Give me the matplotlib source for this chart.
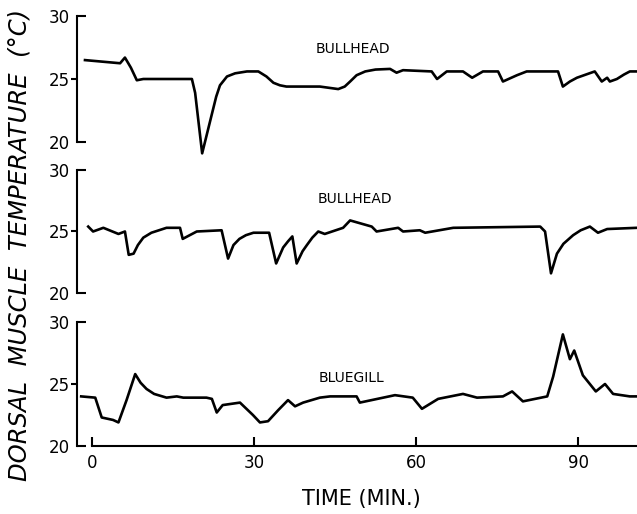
import matplotlib
matplotlib.use("Agg")
import matplotlib.pyplot as plt
from matplotlib.ticker import FixedLocator, FormatStrFormatter

# time in minutes, temperature in deg C
t_bh1 = [-1.3, 5.2, 6.1, 7.2, 8.3, 9.5, 18.5, 19.1, 20.4, 21.9, 23.0, 23.7, 25.0, 26.5,
         28.7, 30.8, 32.3, 33.6, 34.8, 36.0, 42.2, 45.6, 46.8, 47.8, 49.0, 50.6,
         52.5, 55.2, 56.4, 57.6, 62.9, 63.9, 65.7, 68.7, 70.4, 72.4, 75.2, 76.1,
         78.7, 80.5, 86.3, 87.2, 88.5, 89.8, 93.1, 94.4, 95.4, 95.9, 97.2, 98.5,
         99.6, 100.9]
T_bh1 = [26.5, 26.25, 26.7, 25.9, 24.9, 25.0, 25.0, 23.9, 19.1, 21.7, 23.6, 24.5, 25.2, 25.45,
         25.6, 25.6, 25.2, 24.7, 24.5, 24.4, 24.4, 24.2, 24.4, 24.8, 25.3, 25.6,
         25.75, 25.8, 25.5, 25.7, 25.6, 25.0, 25.6, 25.6, 25.1, 25.6, 25.6, 24.8,
         25.3, 25.6, 25.6, 24.4, 24.8, 25.1, 25.6, 24.8, 25.1, 24.8, 25.0, 25.35,
         25.6, 25.6]

t_bh2 = [-0.7, 0.2, 2.1, 4.9, 6.1, 6.8, 7.7, 8.5, 9.5, 11.0, 13.8, 16.3, 16.8, 19.4,
         24.0, 25.2, 26.2, 27.3, 28.5, 29.9, 32.8, 34.1, 35.4, 36.3, 37.1, 37.9,
         39.0, 39.8, 40.8, 41.9, 43.1, 46.5, 47.8, 51.8, 52.7, 56.7, 57.6, 60.7,
         61.7, 66.9, 83.0, 83.9, 85.0, 86.1, 87.3, 89.1, 90.5, 92.2, 93.7, 95.4,
         100.9]
T_bh2 = [25.4, 25.0, 25.3, 24.8, 25.0, 23.1, 23.2, 23.9, 24.5, 24.9, 25.3, 25.3, 24.4, 25.0,
         25.1, 22.8, 23.9, 24.4, 24.7, 24.9, 24.9, 22.4, 23.7, 24.2, 24.6, 22.4,
         23.4, 23.9, 24.5, 25.0, 24.8, 25.3, 25.9, 25.4, 25.0, 25.3, 25.0, 25.1,
         24.9, 25.3, 25.4, 25.0, 21.6, 23.2, 24.0, 24.7, 25.1, 25.4, 24.9, 25.2,
         25.3]

t_bg = [-2.0, 0.6, 1.8, 3.9, 4.9, 6.4, 8.0, 9.0, 10.1, 11.5, 13.8, 15.7, 16.9, 21.2,
        22.2, 23.1, 24.2, 27.4, 29.8, 31.1, 32.6, 34.5, 36.3, 37.6, 39.1, 42.2,
        44.1, 49.0, 49.6, 56.1, 59.4, 61.1, 64.1, 68.7, 71.3, 76.1, 77.8, 79.8,
        84.3, 85.4, 87.2, 88.5, 89.3, 90.9, 93.3, 95.0, 96.5, 99.6, 100.9]
T_bg = [24.0, 23.9, 22.3, 22.1, 21.9, 23.7, 25.8, 25.1, 24.6, 24.2, 23.9, 24.0, 23.9, 23.9,
        23.8, 22.7, 23.3, 23.5, 22.5, 21.9, 22.0, 22.9, 23.7, 23.2, 23.5, 23.9,
        24.0, 24.0, 23.5, 24.1, 23.9, 23.0, 23.8, 24.2, 23.9, 24.0, 24.4, 23.6,
        24.0, 25.6, 29.0, 27.0, 27.7, 25.7, 24.4, 25.0, 24.2, 24.0, 24.0]

names = ["BULLHEAD", "BULLHEAD", "BLUEGILL"]
series = [(t_bh1, T_bh1), (t_bh2, T_bh2), (t_bg, T_bg)]
time_ticks = [0, 30, 60, 90]

W, H = 637, 514
fig = plt.figure(figsize=(W / 100, H / 100), dpi=100)

# panel pixel extents (top of 30, bottom of 20)
panels = [(16, 142), (170, 293), (322, 446)]
label_pos = [(353, 49), (355, 199), (352, 378)]
x_left, x_right = 77, 636
x0_px, px_per_min = 92, 5.4
xlim = ((x_left - x0_px) / px_per_min, (x_right - x0_px) / px_per_min)

for i, ((top, bot), (t, T)) in enumerate(zip(panels, series)):
    ax = fig.add_axes([x_left / W, (H - bot) / H, (x_right - x_left) / W, (bot - top) / H])
    ax.plot(t, T, color="black", lw=1.9, solid_joinstyle="round", clip_on=False)
    ax.set_xlim(*xlim)
    ax.set_ylim(20, 30)
    ax.patch.set_alpha(0)
    for s in ["top", "right"]:
        ax.spines[s].set_visible(False)
    ax.spines["left"].set_linewidth(1.5)
    ax.spines["left"].set_bounds(20, 30)

    ax.yaxis.set_major_locator(FixedLocator([20, 30]))
    ax.yaxis.set_minor_locator(FixedLocator([25]))
    ax.yaxis.set_minor_formatter(FormatStrFormatter("%d"))
    ax.tick_params(axis="y", which="major", direction="in", length=6.5, width=1.5,
                   pad=5, labelsize=12)
    ax.tick_params(axis="y", which="minor", direction="out", length=4, width=1.5,
                   pad=1, labelsize=12)

    if i < 2:
        ax.spines["bottom"].set_visible(False)
        ax.set_xticks([])
    else:
        ax.spines["bottom"].set_linewidth(1.5)
        ax.spines["bottom"].set_bounds(0, xlim[1])
        ax.set_xticks(time_ticks)
        ax.tick_params(axis="x", direction="in", length=6.5, width=1.5, pad=6,
                       labelsize=12)

    lx, ly = label_pos[i]
    fig.text(lx / W, 1 - ly / H, names[i], ha="center", va="center", fontsize=10)

fig.text(20 / W, 1 - 245 / H, "DORSAL  MUSCLE  TEMPERATURE  (°C)", rotation=90,
         ha="center", va="center", fontsize=17.5, style="italic")
fig.text(361 / W, 1 - 499 / H, "TIME (MIN.)", ha="center", va="center", fontsize=15)

fig.savefig("out.png", dpi=100)
